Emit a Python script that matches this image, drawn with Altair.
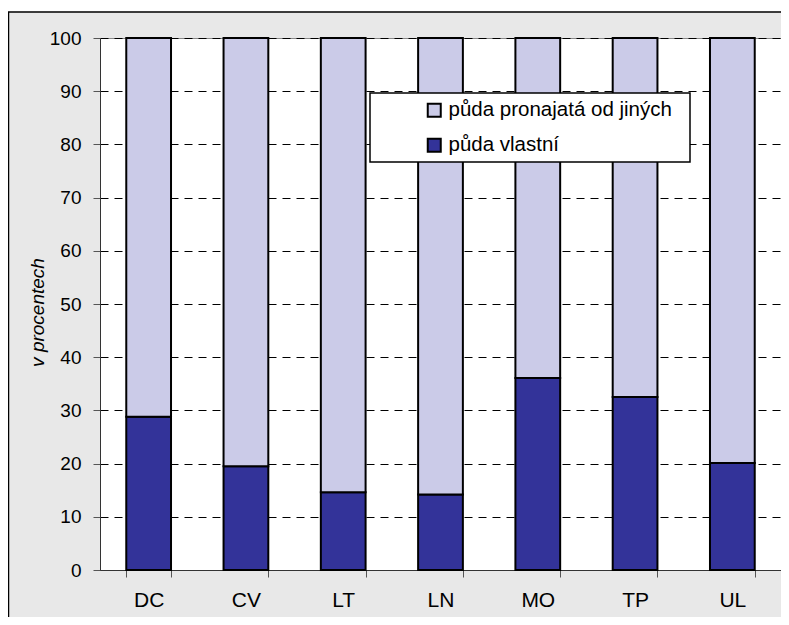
import altair as alt
import pandas as pd

regions = ["DC", "CV", "LT", "LN", "MO", "TP", "UL"]
own = [28.8, 19.5, 14.6, 14.2, 36.1, 32.5, 20.1]
rented = [71.2, 80.5, 85.4, 85.8, 63.9, 67.5, 79.9]
series = ["půda pronajatá od jiných", "půda vlastní"]
colors = ["#cbcbe8", "#333399"]
y_ticks = list(range(0, 101, 10))

rows = []
for r, o, p in zip(regions, own, rented):
    rows.append({"region": r, "series": series[1], "value": o, "order": 0})
    rows.append({"region": r, "series": series[0], "value": p, "order": 1})
df = pd.DataFrame(rows)

W, H = 681, 532
FONT = "Liberation Sans"

bars = alt.Chart(df).mark_bar(stroke="black", strokeWidth=2).encode(
    x=alt.X(
        "region:N", sort=regions,
        scale=alt.Scale(paddingInner=0.54, paddingOuter=0.27),
        axis=alt.Axis(title=None, labelAngle=0, labelFontSize=21, labelFont=FONT,
                      labelColor="black", labelPadding=12, tickSize=7,
                      tickBand="extent", domainColor="#333", tickColor="#555",
                      grid=False),
    ),
    y=alt.Y(
        "value:Q", stack="zero",
        scale=alt.Scale(domain=[0, 100], nice=False),
        axis=alt.Axis(values=y_ticks, title="v procentech", labelFontSize=19,
                      labelFont=FONT, labelColor="black", labelPadding=12,
                      tickSize=7, domainColor="#333", tickColor="#555",
                      grid=True, gridDash=[8, 6], gridColor="black", gridWidth=1,
                      titleFont=FONT, titleFontSize=19, titleFontStyle="italic",
                      titleFontWeight="normal", titleColor="black",
                      titleAngle=270, titleX=-57, titleY=274, titleAlign="center",
                      titleBaseline="alphabetic"),
    ),
    color=alt.Color(
        "series:N",
        scale=alt.Scale(domain=series, range=colors),
        legend=alt.Legend(orient="none", legendX=324, legendY=62, title=None,
                          labelFontSize=20.5, labelFont=FONT, labelColor="black",
                          labelLimit=0,
                          symbolType="square", symbolSize=169,
                          symbolStrokeColor="black", symbolStrokeWidth=2,
                          rowPadding=13, labelOffset=4, padding=0),
    ),
    order=alt.Order("order:Q"),
)

dummy = pd.DataFrame({"a": [0]})

legend_box = alt.Chart(dummy).mark_rect(fill="white", stroke="black", strokeWidth=1.5).encode(
    x=alt.value(270), x2=alt.value(590), y=alt.value(55), y2=alt.value(124)
)

top_strip = alt.Chart(dummy).mark_rect(fill="white").encode(
    x=alt.value(-100), x2=alt.value(700), y=alt.value(-31), y2=alt.value(-26.5)
)

border_left = alt.Chart(dummy).mark_rule(color="black", strokeWidth=1.5).encode(
    x=alt.value(-91.5), y=alt.value(-26), y2=alt.value(600)
)
border_top = alt.Chart(dummy).mark_rule(color="black", strokeWidth=1.5).encode(
    x=alt.value(-92), x2=alt.value(700), y=alt.value(-26)
)

chart = alt.layer(bars, legend_box, top_strip, border_left, border_top).properties(
    width=W, height=H,
    autosize=alt.AutoSizeParams(type="none"),
    padding={"left": 92, "top": 30, "right": 0, "bottom": 47},
    background="#e8e8e8",
).configure_view(fill="white", stroke="#888", strokeWidth=1)

chart.save("out.html", embed_options={"renderer": "svg", "actions": False})
